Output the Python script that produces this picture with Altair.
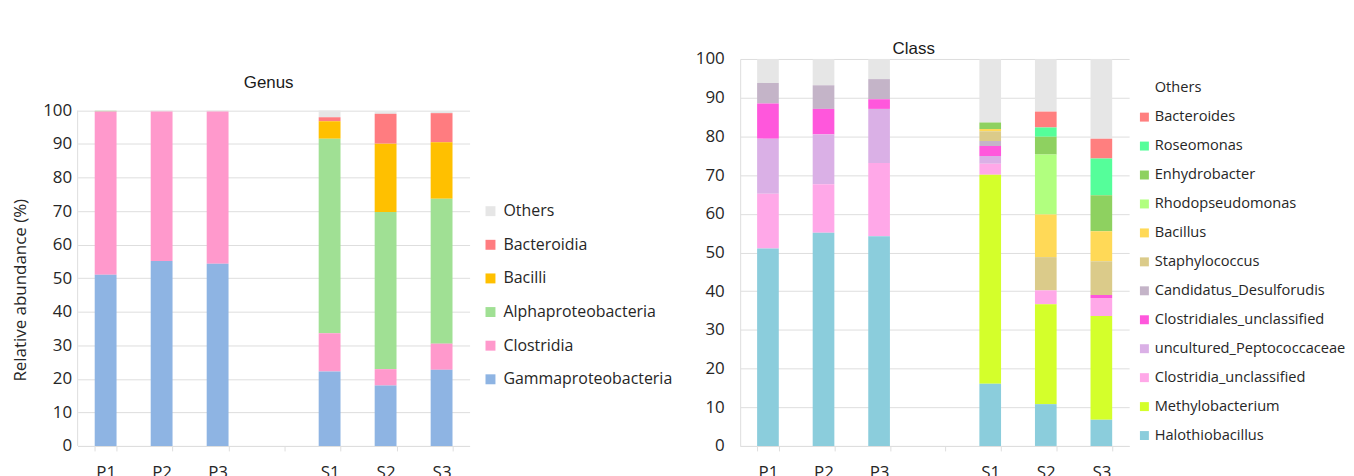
import altair as alt
import pandas as pd

samples = ["P1", "P2", "P3", "S1", "S2", "S3"]
x_domain = ["P1", "P2", "P3", " ", "S1", "S2", "S3"]

# ---- Genus panel (legend order, top to bottom) ----
genus_taxa = ["Others", "Bacteroidia", "Bacilli", "Alphaproteobacteria",
              "Clostridia", "Gammaproteobacteria"]
genus_colors = ["#E6E6E6", "#FF7C80", "#FFC000", "#A0E094", "#FF99CC", "#8EB4E3"]
g_gamma = [51.0, 55.1, 54.3, 22.2, 18.0, 22.7]
g_clostridia = [48.7, 44.6, 45.4, 11.4, 4.9, 7.8]
g_alpha = [0.2, 0.0, 0.0, 58.0, 46.8, 43.2]
g_bacilli = [0.0, 0.0, 0.0, 5.2, 20.4, 16.8]
g_bacteroidia = [0.0, 0.0, 0.0, 1.2, 8.9, 8.7]
g_others = [0.1, 0.3, 0.3, 2.0, 0.5, 0.5]

# ---- Class panel (legend order, top to bottom) ----
class_taxa = ["Others", "Bacteroides", "Roseomonas", "Enhydrobacter",
              "Rhodopseudomonas", "Bacillus", "Staphylococcus",
              "Candidatus_Desulforudis", "Clostridiales_unclassified",
              "uncultured_Peptococcaceae", "Clostridia_unclassified",
              "Methylobacterium", "Halothiobacillus"]
class_colors = ["#E6E6E6", "#FF7F7F", "#55FE9A", "#8ED160", "#B1FF7F",
                "#FFD957", "#DBCB8A", "#C4B4C8", "#FF57DC", "#DAB0E6",
                "#FFA8E8", "#D4FF2B", "#8BCDDC"]
c_halo = [51.0, 55.1, 54.2, 16.1, 10.8, 6.8]
c_methylo = [0.0, 0.0, 0.0, 54.0, 25.8, 26.8]
c_clostridia_uncl = [14.2, 12.5, 18.9, 2.8, 3.6, 4.6]
c_peptococc = [14.2, 12.9, 14.0, 2.0, 0.0, 0.0]
c_clostridiales_uncl = [9.1, 6.6, 2.5, 2.6, 0.0, 0.8]
c_candidatus = [5.3, 6.1, 5.2, 1.3, 0.0, 0.0]
c_staphylo = [0.0, 0.0, 0.0, 2.5, 8.6, 8.7]
c_bacillus = [0.0, 0.0, 0.0, 0.6, 11.0, 7.8]
c_rhodo = [0.0, 0.0, 0.0, 0.0, 15.5, 0.0]
c_enhydro = [0.0, 0.0, 0.0, 1.7, 4.6, 9.3]
c_roseo = [0.0, 0.0, 0.0, 0.0, 2.4, 9.5]
c_bacteroides = [0.0, 0.0, 0.0, 0.0, 4.1, 5.1]
c_others = [6.2, 6.8, 5.2, 16.4, 13.6, 20.6]

y_ticks = list(range(0, 101, 10))

genus_series = [g_others, g_bacteroidia, g_bacilli, g_alpha, g_clostridia, g_gamma]
class_series = [c_others, c_bacteroides, c_roseo, c_enhydro, c_rhodo, c_bacillus,
                c_staphylo, c_candidatus, c_clostridiales_uncl, c_peptococc,
                c_clostridia_uncl, c_methylo, c_halo]


def make_df(taxa, series):
    rows = []
    n = len(taxa)
    for i, (t, vals) in enumerate(zip(taxa, series)):
        for s, v in zip(samples, vals):
            if v > 0:
                rows.append({"sample": s, "taxon": t, "value": v, "rank": n - 1 - i})
    return pd.DataFrame(rows)


FONT = "Open Sans"
TXT = "#262626"
GRID = "#DEDEDE"
H = 389


def bars(df, taxa, colors, ymax, legend_kwargs, yaxis_kwargs):
    return alt.Chart(df).mark_bar().encode(
        x=alt.X("sample:N",
                scale=alt.Scale(domain=x_domain, paddingInner=0.61, paddingOuter=0.305),
                axis=alt.Axis(title=None, labelAngle=0, tickBand="extent", tickSize=5,
                              tickColor=GRID, domainColor=GRID, labelPadding=14,
                              labelFont=FONT, labelFontSize=17, labelColor=TXT,
                              grid=False)),
        y=alt.Y("value:Q", stack="zero",
                scale=alt.Scale(domain=[0, ymax], nice=False),
                axis=alt.Axis(**yaxis_kwargs)),
        color=alt.Color("taxon:N", scale=alt.Scale(domain=taxa, range=colors),
                        legend=alt.Legend(**legend_kwargs)),
        order=alt.Order("rank:Q", sort="ascending"),
    )


def title(text, dx, dy):
    return alt.TitleParams(text, offset=2, dx=dx, dy=dy, font="Liberation Sans",
                           fontSize=17, fontWeight="normal", color="#1A1A1A")


def build(use_expr):
    # ---- Genus (left) ----
    g_legend = dict(title=None, orient="none", legendX=407, legendY=145, padding=0,
                    symbolType="square", symbolSize=100, symbolStrokeWidth=0,
                    labelFont=FONT, labelFontSize=16, labelColor=TXT,
                    rowPadding=17.8, labelOffset=5, labelLimit=400)
    g_yaxis = dict(values=y_ticks, tickSize=0, labelFont=FONT, labelFontSize=17,
                   labelColor=TXT, labelPadding=6, gridColor=GRID, grid=True,
                   labelOverlap=False, domain=False,
                   title="Relative abundance (%)", titleFont=FONT,
                   titleFontSize=17, titleFontWeight="normal", titleColor=TXT,
                   titleX=-57, titleY=232, titleBaseline="middle")
    g_ymax = 100 * 389.3 / 337.5
    g_bars = bars(make_df(genus_taxa, genus_series), genus_taxa, genus_colors,
                  g_ymax, g_legend, g_yaxis)
    g_axisline = alt.Chart(
        pd.DataFrame({"value": [y_ticks[0]], "value2": [y_ticks[-1]]})
    ).mark_rule(color=GRID, strokeWidth=1).encode(
        x=alt.value(0), y=alt.Y("value:Q", axis=alt.Axis(**g_yaxis)), y2="value2:Q")
    genus = alt.layer(g_bars, g_axisline).properties(
        width=394, height=H, title=title("Genus", -5, 35))

    # ---- Class (right) ----
    c_legend = dict(title=None, orient="none", legendX=399, legendY=22, padding=0,
                    symbolType="square", symbolSize=81, symbolStrokeWidth=0,
                    labelFont=FONT, labelFontSize=14.7, labelColor=TXT,
                    rowPadding=13.1, labelOffset=3, labelLimit=400)
    if use_expr:
        c_legend["symbolOpacity"] = {"expr": "datum.value === 'Others' ? 0 : 1"}
    c_yaxis = dict(values=y_ticks, tickSize=0, labelFont=FONT, labelFontSize=17,
                   labelColor=TXT, labelPadding=16, gridColor=GRID, grid=True,
                   labelOverlap=False, domainColor=GRID, title=None)
    klass = bars(make_df(class_taxa, class_series), class_taxa, class_colors,
                 100, c_legend, c_yaxis).properties(
        width=391, height=H, title=title("Class", -21, 10))

    return alt.hconcat(genus, klass, spacing=22).resolve_scale(
        color="independent"
    ).configure_view(stroke=None).properties(
        padding={"left": 4, "top": 31, "right": 0, "bottom": 0}
    )


try:
    chart = build(True)
    chart.to_dict()
except Exception:
    chart = build(False)

chart.save("out.html", embed_options={"renderer": "svg", "actions": False})
